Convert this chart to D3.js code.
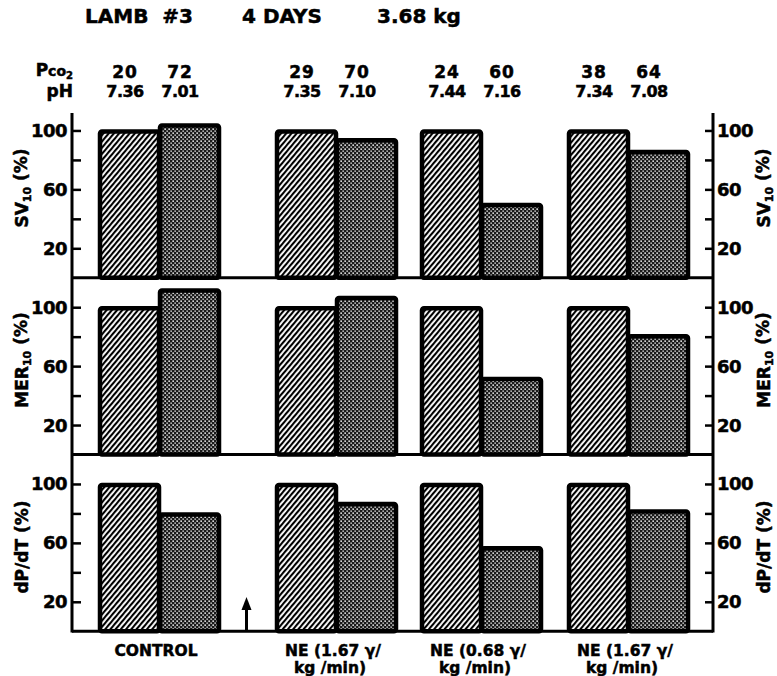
<!DOCTYPE html>
<html>
<head>
<meta charset="utf-8">
<script src="https://cdn.jsdelivr.net/npm/d3@7"></script>
<style>
  body { margin: 0; background: #fff; }
  svg { display: block; font-family: "DejaVu Sans", sans-serif; font-weight: bold; }
  svg text { stroke: #000; stroke-width: 0.5; }
</style>
</head>
<body>
<svg width="777" height="676"></svg>
<script>
// groups of experiments, two bars each (normal, hypercapnic)
var groups = ["CONTROL", "NE1", "NE2", "NE3"];
var groupLabels = [["CONTROL"], ["NE (1.67 \u03b3/", "kg /min)"], ["NE (0.68 \u03b3/", "kg /min)"], ["NE (1.67 \u03b3/", "kg /min)"]];
var conditions = ["normal", "acid"];
var pco2 = [[20, 72], [29, 70], [24, 60], [38, 64]];
var ph = [["7.36", "7.01"], ["7.35", "7.10"], ["7.44", "7.16"], ["7.34", "7.08"]];
var sv10 = [[100, 104], [100, 94], [100, 50], [100, 86]];
var mer10 = [[100, 112], [100, 107], [100, 52], [100, 81]];
var dpdt = [[100, 80], [100, 87], [100, 57], [100, 82]];
var yTicks = [20, 40, 60, 80, 100];
var yLabelTicks = [20, 60, 100];

var svg = d3.select("svg"),
  left = 72,
  right = 713,
  panelH = 176.75,
  barW = 60;

var panels = [
  { name: "SV", sub: "10", values: sv10, bottom: 277.75, labelY: 188 },
  { name: "MER", sub: "10", values: mer10, bottom: 454.5, labelY: 360 },
  { name: "dP/dT", sub: "", values: dpdt, bottom: 631.25, labelY: 547 }
];

// x: group start + bar within group
var xGroup = d3.scaleOrdinal().domain(groups).range([98, 275, 420, 567]);
var xBar = d3.scaleBand().domain(conditions).range([0, 2 * barW]);
function barCenter(gi, ci) {
  return xGroup(groups[gi]) + xBar(conditions[ci]) + xBar.bandwidth() / 2;
}

// patterns
var defs = svg.append("defs");
var hatch = defs.append("pattern")
  .attr("id", "hatch")
  .attr("patternUnits", "userSpaceOnUse")
  .attr("width", 4)
  .attr("height", 8)
  .attr("patternTransform", "rotate(40)");
hatch.append("rect").attr("width", 4).attr("height", 8).attr("fill", "#fff");
hatch.append("rect").attr("width", 2.1).attr("height", 8).attr("fill", "#000");

var dots = defs.append("pattern")
  .attr("id", "dots")
  .attr("patternUnits", "userSpaceOnUse")
  .attr("width", 4)
  .attr("height", 4);
dots.append("rect").attr("width", 4).attr("height", 4).attr("fill", "#1a1a1a");
dots.append("rect").attr("x", 0.4).attr("y", 0.4).attr("width", 1.5).attr("height", 1.5).attr("fill", "#fff");
dots.append("rect").attr("x", 2.4).attr("y", 2.4).attr("width", 1.5).attr("height", 1.5).attr("fill", "#ccc");

panels.forEach(function(p) {
  var y = d3.scaleLinear().domain([0, 120]).range([p.bottom, p.bottom - panelH]);
  var g = svg.append("g");

  var flat = [];
  p.values.forEach(function(pair, gi) {
    pair.forEach(function(v, ci) {
      flat.push({ gi: gi, ci: ci, v: v });
    });
  });

  g.selectAll("rect.bar")
    .data(flat)
    .enter()
    .append("rect")
    .attr("class", "bar")
    .attr("x", function(d) { return xGroup(groups[d.gi]) + xBar(conditions[d.ci]) + 2; })
    .attr("width", xBar.bandwidth() - 1)
    .attr("y", function(d) { return y(d.v) + 1; })
    .attr("height", function(d) { return y(0) - y(d.v) - 1; })
    .attr("rx", 2)
    .attr("fill", function(d) { return d.ci === 0 ? "url(#hatch)" : "url(#dots)"; })
    .attr("stroke", "#000")
    .attr("stroke-width", 4.5);

  // base line of panel
  g.append("line")
    .attr("x1", left).attr("x2", right)
    .attr("y1", y(0)).attr("y2", y(0))
    .attr("stroke", "#000").attr("stroke-width", 3);

  // ticks on both sides, pointing inward
  var leftAxis = d3.axisRight(y).tickValues(yTicks).tickSize(9).tickFormat("");
  var la = g.append("g").attr("transform", "translate(" + left + ",0)").call(leftAxis);
  la.select(".domain").remove();
  la.selectAll("line").attr("stroke", "#000").attr("stroke-width", 2.5);

  var rightAxis = d3.axisLeft(y).tickValues(yTicks).tickSize(8).tickFormat("");
  var ra = g.append("g").attr("transform", "translate(" + right + ",0)").call(rightAxis);
  ra.select(".domain").remove();
  ra.selectAll("line").attr("stroke", "#000").attr("stroke-width", 2.5);

  g.selectAll("text.lt")
    .data(yLabelTicks)
    .enter()
    .append("text")
    .attr("class", "lt")
    .attr("x", 67)
    .attr("y", function(d) { return y(d); })
    .attr("dy", "0.36em")
    .attr("text-anchor", "end")
    .attr("font-size", 18)
    .attr("letter-spacing", -0.5)
    .text(function(d) { return d; });

  g.selectAll("text.rt")
    .data(yLabelTicks)
    .enter()
    .append("text")
    .attr("class", "rt")
    .attr("x", 717)
    .attr("y", function(d) { return y(d); })
    .attr("dy", "0.36em")
    .attr("font-size", 18)
    .attr("letter-spacing", -0.5)
    .text(function(d) { return d; });

  // rotated panel titles, both sides
  [22, 764].forEach(function(cx) {
    var t = g.append("text")
      .attr("transform", "translate(" + cx + "," + p.labelY + ") rotate(-90)")
      .attr("text-anchor", "middle")
      .attr("dy", "0.36em")
      .attr("font-size", 17);
    t.append("tspan").text(p.name);
    if (p.sub) {
      t.append("tspan").attr("font-size", 11).attr("dy", "0.25em").text(p.sub);
      t.append("tspan").attr("dy", "-0.25em").text(" (%)");
    } else {
      t.append("tspan").text(" (%)");
    }
  });
});

// vertical axes
svg.append("line")
  .attr("x1", left).attr("x2", left).attr("y1", 113).attr("y2", 632.5)
  .attr("stroke", "#000").attr("stroke-width", 3);
svg.append("line")
  .attr("x1", right).attr("x2", right).attr("y1", 113).attr("y2", 632.5)
  .attr("stroke", "#000").attr("stroke-width", 3);

// arrow between control and first NE group
var arrowX = (xGroup(groups[0]) + 2 * barW + xGroup(groups[1])) / 2;
svg.append("line")
  .attr("x1", arrowX).attr("x2", arrowX).attr("y1", 631).attr("y2", 606)
  .attr("stroke", "#000").attr("stroke-width", 3);
svg.append("path")
  .attr("d", "M" + (arrowX - 5) + ",610 L" + arrowX + ",597 L" + (arrowX + 5) + ",610 Z")
  .attr("fill", "#000");

// title
var title = [["LAMB  #3", 85], ["4 DAYS", 242], ["3.68 kg", 377]];
svg.selectAll("text.title")
  .data(title)
  .enter()
  .append("text")
  .attr("class", "title")
  .attr("x", function(d) { return d[1]; })
  .attr("y", 23)
  .attr("font-size", 20)
  .style("white-space", "pre")
  .text(function(d) { return d[0]; });

// Pco2 / pH rows
var pl = svg.append("text").attr("x", 73).attr("y", 76).attr("text-anchor", "end").attr("font-size", 17);
pl.append("tspan").text("P");
pl.append("tspan").attr("font-size", 14).text("co");
pl.append("tspan").attr("font-size", 10).attr("dy", "0.25em").text("2");
svg.append("text").attr("x", 73).attr("y", 97).attr("text-anchor", "end").attr("font-size", 17).text("pH");

var topRows = [];
pco2.forEach(function(pair, gi) {
  pair.forEach(function(v, ci) {
    topRows.push({ gi: gi, ci: ci, pco2: v, ph: ph[gi][ci] });
  });
});
svg.selectAll("text.pco2")
  .data(topRows)
  .enter()
  .append("text")
  .attr("class", "pco2")
  .attr("x", function(d) { return barCenter(d.gi, d.ci) - 3 - d.ci * 5; })
  .attr("y", 78)
  .attr("text-anchor", "middle")
  .attr("font-size", 17)
  .attr("letter-spacing", 1)
  .text(function(d) { return d.pco2; });
svg.selectAll("text.ph")
  .data(topRows)
  .enter()
  .append("text")
  .attr("class", "ph")
  .attr("x", function(d) { return barCenter(d.gi, d.ci) - 3 - d.ci * 5; })
  .attr("y", 97)
  .attr("text-anchor", "middle")
  .attr("font-size", 16)
  .attr("letter-spacing", -0.5)
  .text(function(d) { return d.ph; });

// group labels under the axis
groups.forEach(function(gname, gi) {
  var cx = xGroup(gname) + barW;
  groupLabels[gi].forEach(function(line, li) {
    svg.append("text")
      .attr("x", cx - 2 - li * 3)
      .attr("y", 656 + li * 17)
      .attr("text-anchor", "middle")
      .attr("font-size", 15.5)
      .text(line);
  });
});
</script>
</body>
</html>
